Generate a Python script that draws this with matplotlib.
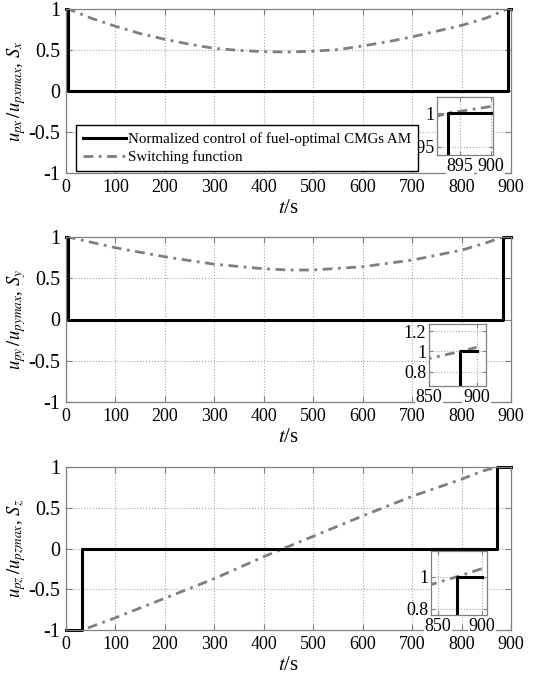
import matplotlib
matplotlib.use('Agg')
import matplotlib.pyplot as plt
from matplotlib.ticker import FormatStrFormatter

plt.rcParams['font.family'] = 'Liberation Serif'
plt.rcParams['mathtext.fontset'] = 'stix'
plt.rcParams['axes.unicode_minus'] = False

# switching functions
t_sx = [0, 5, 50, 100, 150, 200, 250, 300, 350, 400, 450, 500, 550, 600, 650, 700, 750, 800, 850, 893, 900]
s_x = [1.01, 1.0, 0.89, 0.79, 0.70, 0.63, 0.57, 0.52, 0.495, 0.48, 0.475, 0.485, 0.505, 0.55, 0.60, 0.66, 0.73, 0.80, 0.89, 1.0, 1.01]

t_sy = [0, 4, 100, 200, 300, 400, 450, 500, 600, 700, 800, 850, 883, 900]
s_y = [1.01, 1.0, 0.87, 0.76, 0.67, 0.615, 0.6, 0.6, 0.64, 0.72, 0.84, 0.93, 1.0, 1.04]

t_sz = [0, 33, 100, 200, 300, 400, 440, 500, 600, 700, 800, 842, 872, 906]
s_z = [-1.08, -1.0, -0.85, -0.61, -0.37, -0.1, 0.0, 0.15, 0.4, 0.64, 0.85, 0.95, 1.0, 1.06]

# normalized control (step, switching times)
ctrl_x_t = [0, 5, 893, 900]
ctrl_x_u = [1, 0, 1, 1]
ctrl_y_t = [0, 4, 883, 900]
ctrl_y_u = [1, 0, 1, 1]
ctrl_z_t = [0, 33, 872, 900]
ctrl_z_u = [-1, 0, 1, 1]

ylabels = [r'$u_{px}\,/u_{pxmax}$, $S_x$',
           r'$u_{py}\,/u_{pymax}$, $S_y$',
           r'$u_{pz}\,/u_{pzmax}$, $S_z$']

# inset zoom windows
inset_xlim = [(891.3, 900.3), (850, 910), (842, 906)]
inset_ylim = [(0.938, 1.024), (0.66, 1.27), (0.76, 1.16)]
inset_xticks = [[895, 900], [850, 900], [850, 900]]
inset_yticks = [[0.95, 1], [0.8, 1, 1.2], [0.8, 1]]

W, H = 545, 676
ax_pos = [(9, 173), (237, 402), (467, 630)]
inset_pos = [(437, 493, 97, 155), (429, 486, 324, 386), (431, 487, 551, 615)]

SPINE = '#808080'
SW_COLOR = '#7f7f7f'

fig = plt.figure(figsize=(W / 100, H / 100), dpi=100)

data = [(t_sx, s_x, ctrl_x_t, ctrl_x_u),
        (t_sy, s_y, ctrl_y_t, ctrl_y_u),
        (t_sz, s_z, ctrl_z_t, ctrl_z_u)]


def style(ax, size):
    for sp in ax.spines.values():
        sp.set_color(SPINE)
        sp.set_linewidth(0.9)
    ax.tick_params(direction='in', colors=SPINE, labelcolor='black',
                   labelsize=size, top=True, right=True, length=4, pad=4)
    ax.grid(True, linestyle=':', color='#a8a8a8', linewidth=0.8)
    ax.set_axisbelow(True)


for i, (ts, ss, ct, cu) in enumerate(data):
    top, bot = ax_pos[i]
    ax = fig.add_axes([66 / W, 1 - bot / H, 445 / W, (bot - top) / H])
    style(ax, 13)
    ax.tick_params(axis='y', labelsize=14.5)
    ax.plot(ts, ss, color=SW_COLOR, lw=2, dashes=(3.5, 2, 1, 2),
            label='Switching function')
    ax.step(ct, cu, where='post', color='black', lw=2.2, clip_on=False,
            label='Normalized control of fuel-optimal CMGs AM')
    ax.set_xlim(0, 900)
    ax.set_ylim(-1, 1)
    ax.set_xticks(range(0, 901, 100))
    ax.set_yticks([-1, -0.5, 0, 0.5, 1])
    ax.yaxis.set_major_formatter(FormatStrFormatter('%g'))
    ax.set_xlabel('$t$/s', fontsize=15)
    ax.set_ylabel(ylabels[i], fontsize=13.5)
    ax.xaxis.set_label_coords(0.5, -0.16)
    ax.yaxis.set_label_coords(-0.085, 0.5)
    if i == 0:
        handles, labels = ax.get_legend_handles_labels()

    # zoomed inset near the final switch
    x0, x1, y0, y1 = inset_pos[i]
    ins = fig.add_axes([x0 / W, 1 - y1 / H, (x1 - x0) / W, (y1 - y0) / H])
    style(ins, 13)
    ins.tick_params(length=3, pad=2)
    ins.plot(ts, ss, color=SW_COLOR, lw=2, dashes=(3.5, 2, 1, 2))
    ins.step(ct, cu, where='post', color='black', lw=2.2)
    ins.set_xlim(*inset_xlim[i])
    ins.set_ylim(*inset_ylim[i])
    ins.set_xticks(inset_xticks[i])
    ins.set_yticks(inset_yticks[i])
    ins.yaxis.set_major_formatter(FormatStrFormatter('%g'))
    for lab in ins.get_xticklabels():
        lab.set_bbox(dict(facecolor='white', edgecolor='none', pad=0.5))

# legend sits on top of the first inset, as in the original
fig.legend(handles[::-1], labels[::-1], loc='lower left',
           bbox_to_anchor=(76 / W, 1 - 171 / H), bbox_transform=fig.transFigure,
           borderaxespad=0, fontsize=10.8, handlelength=2.9, handletextpad=0.1,
           labelspacing=0.3, borderpad=0.45, fancybox=False, framealpha=1,
           edgecolor='black')

fig.savefig('out.png', dpi=100)
